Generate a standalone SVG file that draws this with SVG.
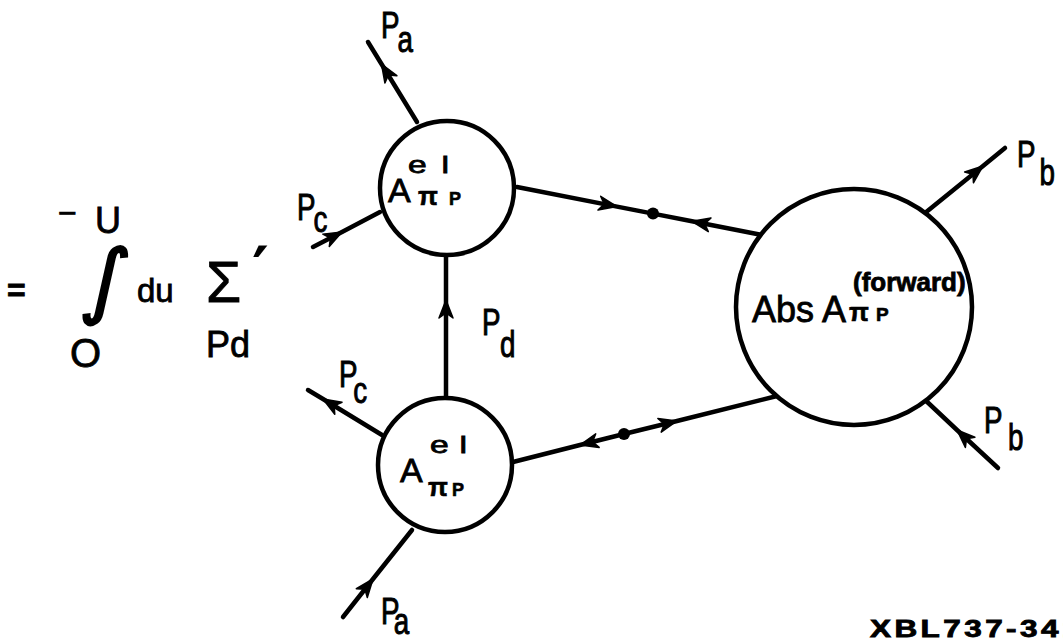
<svg xmlns="http://www.w3.org/2000/svg" width="1063" height="640" viewBox="0 0 1063 640">
<style>
.ln{fill:none;stroke:#000;stroke-width:4.5;stroke-linecap:round;stroke-linejoin:round;marker-mid:url(#ah)}
.nd{fill:#fff;stroke:#000;stroke-width:4.5}
.t{font-family:"Liberation Sans",Arial,sans-serif;fill:#000;stroke:#000;stroke-width:0.8}
.lbl{font-family:"Liberation Sans",Arial,sans-serif;font-size:37px;fill:#000;stroke:#000;stroke-width:1}
.pi{font-family:"Liberation Sans",Arial,sans-serif;font-weight:bold;fill:#000;stroke:#000;stroke-width:0.6}
</style>
<defs>
<marker id="ah" markerUnits="userSpaceOnUse" markerWidth="30" markerHeight="30" viewBox="-20 -10 30 20" refX="0" refY="0" orient="auto" overflow="visible">
<path d="M-18,-7 L0,0 L-18,7 L-13,0 Z" fill="#000" stroke="#000" stroke-width="1.5" stroke-linejoin="round"/>
</marker>
</defs>
<rect width="1063" height="640" fill="#fff"/>

<g id="formula">
<text class="t" x="7" y="301" font-size="32" font-weight="bold">=</text>
<text class="t" x="58" y="224" font-size="32">−</text>
<text class="t" x="95" y="233" font-size="36">U</text>
<text transform="translate(80,308) skewX(-10)" font-family="DejaVu Sans,sans-serif" font-size="82" fill="#000" stroke="#000" stroke-width="2">∫</text>
<text class="t" x="137" y="302" font-size="33">du</text>
<text class="t" x="206" y="302" font-size="57">Σ</text>
<text x="252" y="292" font-family="DejaVu Sans,sans-serif" font-weight="bold" font-size="64">′</text>
<text class="t" x="206" y="357" font-size="36">Pd</text>
<text class="t" x="70" y="367" font-size="40">O</text>
</g>

<g id="connectors">
<path class="ln" d="M417,122 L381.5,64 L368,42"/>
<path class="ln" d="M313,247 L342,232 L380,212"/>
<path class="ln" d="M446,398 L446,300 L446,255"/>
<path class="ln" d="M517,187 L617,206.6 L653,213.6"/>
<path class="ln" d="M762,235 L692,221.3 L653,213.6"/>
<path class="ln" d="M624,434 L580,445 L513,462"/>
<path class="ln" d="M624,434 L677,421 L777,396"/>
<path class="ln" d="M382,435 L323,399 L308,390"/>
<path class="ln" d="M343,617 L373,579 L412,530"/>
<path class="ln" d="M925,213 L983,166 L1005,148"/>
<path class="ln" d="M998,468 L957,430 L923,398"/>
<circle cx="653" cy="213.6" r="6" fill="#000"/>
<circle cx="624" cy="434" r="6" fill="#000"/>
</g>

<g id="node-top">
<circle class="nd" cx="447" cy="188" r="67"/>
<text class="t" x="388" y="202" font-size="34">A</text>
<text class="t" transform="translate(408,173) scale(1.4,1)" font-size="24"><tspan x="0">e</tspan><tspan x="24">l</tspan></text>
<text class="pi" x="418" y="205" font-size="26">π</text>
<text class="pi" x="449" y="205" font-size="18">P</text>
</g>

<g id="node-bottom">
<circle class="nd" cx="445" cy="465" r="67"/>
<text class="t" x="400" y="482" font-size="34">A</text>
<text class="t" transform="translate(430,453) scale(1.4,1)" font-size="24"><tspan x="0">e</tspan><tspan x="21">l</tspan></text>
<text class="pi" x="428" y="496" font-size="26">π</text>
<text class="pi" x="452" y="496" font-size="18">P</text>
</g>

<g id="node-abs">
<circle class="nd" cx="854" cy="307" r="118"/>
<text class="t" x="752" y="322" font-size="36">Abs A</text>
<text class="t" x="853" y="291" font-size="26" font-weight="bold">(forward)</text>
<text class="pi" x="849" y="321" font-size="26">π</text>
<text class="pi" x="876" y="321" font-size="19">P</text>
</g>

<g id="labels">
<text class="lbl" transform="translate(381,38) scale(0.75,1)"><tspan x="0" y="0">P</tspan><tspan x="22" y="14">a</tspan></text>
<text class="lbl" transform="translate(297,220) scale(0.75,1)"><tspan x="0" y="0">P</tspan><tspan x="22" y="12">c</tspan></text>
<text class="lbl" transform="translate(482,335) scale(0.75,1)"><tspan x="0" y="0">P</tspan><tspan x="24" y="22">d</tspan></text>
<text class="lbl" transform="translate(339,387) scale(0.75,1)"><tspan x="0" y="0">P</tspan><tspan x="19" y="16">c</tspan></text>
<text class="lbl" transform="translate(381,624) scale(0.75,1)"><tspan x="0" y="0">P</tspan><tspan x="17" y="10">a</tspan></text>
<text class="lbl" transform="translate(1017,167) scale(0.75,1)"><tspan x="0" y="0">P</tspan><tspan x="30" y="18">b</tspan></text>
<text class="lbl" transform="translate(984,433) scale(0.75,1)"><tspan x="0" y="0">P</tspan><tspan x="32" y="17">b</tspan></text>
<text class="t" transform="translate(870,637) scale(1.37,1)" font-size="23" font-weight="bold" letter-spacing="2.5">XBL737-341</text>
</g>
</svg>
